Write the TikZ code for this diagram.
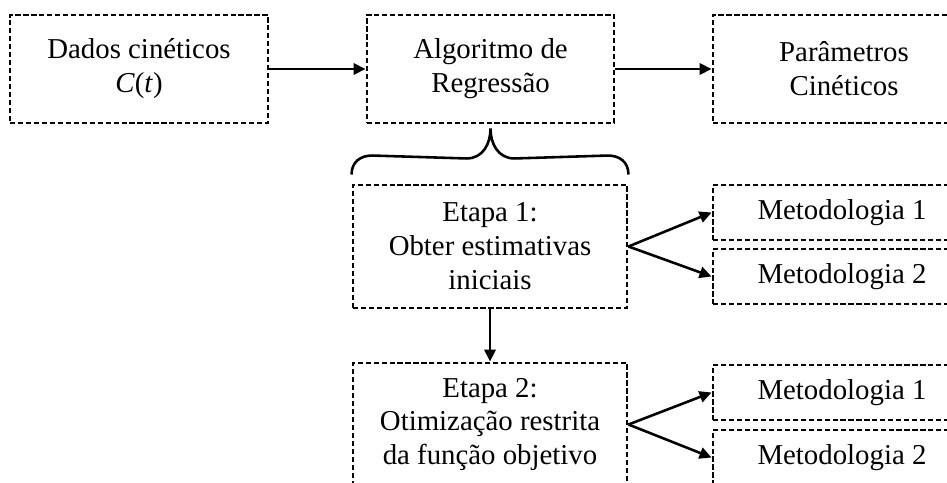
\documentclass[tikz,border=0pt]{standalone}
\usepackage{fontspec}
\setmainfont{Liberation Serif}
\usetikzlibrary{arrows.meta,positioning}

\begin{document}
\begin{tikzpicture}[
  flowbox/.style={draw,line width=2.5pt,dash pattern=on 4.4pt off 2.4pt,align=center,inner sep=4pt,
    font=\fontsize{24.6pt}{29pt}\selectfont},
  bigbox/.style={flowbox,minimum width=7.74cm,minimum height=3.24cm},
  stagebox/.style={flowbox,minimum width=8.22cm,minimum height=3.69cm},
  methodbox/.style={flowbox,minimum width=7.74cm,minimum height=1.65cm},
  link/.style={line width=2.2pt,-{Triangle[length=0.36cm,width=0.34cm]}}
]
\clip (0,0) rectangle (28.41,-14.46);
\node[bigbox] (dados) at (4.17,-2.07) {Dados cinéticos\\\textit{C}(\textit{t})};
\node[bigbox,minimum width=7.41cm] (algoritmo) at (14.715,-2.07) {Algoritmo de\\Regressão};
\node[bigbox,minimum width=7.86cm] (parametros) at (25.32,-2.07) {Parâmetros\\Cinéticos};

\node[stagebox] (etapa1) at (14.7,-7.395) {Etapa 1:\\Obter estimativas\\iniciais};
\node[stagebox] (etapa2) at (14.7,-12.735) {Etapa 2:\\Otimização restrita\\da função objetivo};

\node[methodbox] (met11) at (25.26,-6.375) {Metodologia 1};
\node[methodbox] (met12) at (25.26,-8.295) {Metodologia 2};
\node[methodbox] (met21) at (25.26,-11.775) {Metodologia 1};
\node[methodbox] (met22) at (25.26,-13.725) {Metodologia 2};

\draw[link] (dados) -- (algoritmo);
\draw[link] (algoritmo) -- (parametros);
\draw[link] (etapa1) -- (etapa2);
\draw[link] (etapa1.east) -- (met11.west);
\draw[link] (etapa1.east) -- (met12.west);
\draw[link] (etapa2.east) -- (met21.west);
\draw[link] (etapa2.east) -- (met22.west);

% chave
\coordinate (bl) at ([yshift=0.27cm]etapa1.north west);
\coordinate (br) at ([yshift=0.27cm]etapa1.north east);
\coordinate (bt) at ([yshift=-0.12cm]algoritmo.south);
\draw[line width=2.2pt] (bl) .. controls +(0,0.38) and +(-0.35,0) .. ++(0.62,0.57) -- ([xshift=-0.72cm,yshift=-0.9cm]bt)
  .. controls +(0.5,0) and +(0,-0.45) .. (bt)
  .. controls +(0,-0.45) and +(-0.5,0) .. ([xshift=0.72cm,yshift=-0.9cm]bt) -- ([xshift=-0.62cm,yshift=0.57cm]br)
  .. controls +(0.35,0) and +(0,0.38) .. (br);
\end{tikzpicture}
\end{document}
